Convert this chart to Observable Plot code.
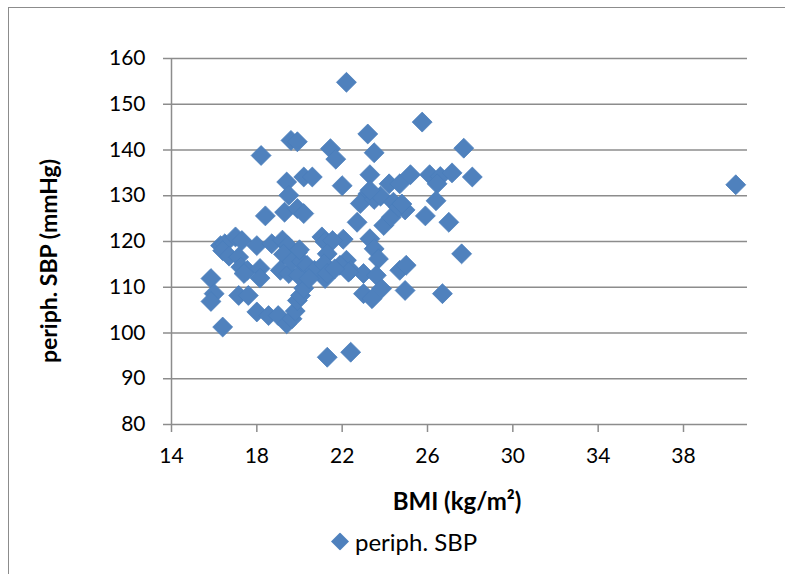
<!DOCTYPE html>
<html><head><meta charset="utf-8">
<script src="https://cdn.jsdelivr.net/npm/d3@7"></script>
<script src="https://cdn.jsdelivr.net/npm/@observablehq/plot@0.6"></script>
<style>
body{margin:0;background:#fff;font-family:Lato,"Open Sans",sans-serif;}
#wrap{position:relative;width:785px;height:574px;overflow:hidden;background:#fff;}
#frame{position:absolute;left:8px;top:7px;width:820px;height:620px;border-left:1.5px solid #8c8c8c;border-top:1.5px solid #8c8c8c;box-sizing:border-box;}
#chart{position:absolute;left:0;top:0;}
.title{position:absolute;font-weight:bold;font-size:23px;color:#000;white-space:nowrap;}
#ytitle{left:48px;top:261px;transform:translate(-50%,-50%) rotate(-90deg);}
#xtitle{left:457px;top:500px;transform:translate(-50%,-50%);font-size:24px;}
#legend{position:absolute;left:331px;top:541px;transform:translateY(-50%);display:flex;align-items:center;font-size:24px;color:#000;white-space:nowrap;}
#legend svg{margin-right:6px;}
</style>
</head><body>
<div id="wrap">
  <div id="frame"></div>
  <div id="chart"></div>
  <div class="title" id="ytitle">periph. SBP (mmHg)</div>
  <div class="title" id="xtitle">BMI (kg/m²)</div>
  <div id="legend"></div>
</div>
<script>
const seriesName = "periph. SBP";
const xTitle = "BMI (kg/m²)";
const yTitle = "periph. SBP (mmHg)";
const xTicks = [14, 18, 22, 26, 30, 34, 38];
const yTicks = [80, 90, 100, 110, 120, 130, 140, 150, 160];

const bmi = [
  22.2, 25.75, 23.2, 18.2, 19.6, 19.9, 21.45, 21.7, 22.0, 23.5,
  27.7, 19.4, 20.2, 20.6, 19.5, 18.4, 19.3, 19.9, 20.2, 23.3,
  24.2, 24.7, 25.2, 26.1, 26.6, 27.15, 28.1, 26.45, 26.4, 23.2,
  22.85, 22.7, 23.95, 24.3, 24.95, 25.9, 27.0, 23.5, 23.8, 24.4,
  24.65, 24.8, 23.3, 22.05, 23.3, 23.5, 23.7, 22.2, 22.4, 23.0,
  23.6, 24.7, 25.0, 27.6, 23.0, 23.4, 23.85, 24.95, 26.7, 22.4,
  21.3, 15.85, 16.0, 15.85, 16.4, 16.3, 16.5, 17.0, 17.3, 16.4,
  16.7, 17.15, 17.25, 17.55, 17.4, 17.15, 17.6, 18.0, 18.15, 18.15,
  18.0, 18.55, 19.0, 19.4, 19.65, 19.8, 19.9, 20.05, 20.2, 18.7,
  19.2, 19.45, 19.9, 19.25, 19.1, 19.5, 19.95, 19.65, 20.1, 20.35,
  20.7, 21.05, 21.2, 21.55, 21.3, 21.15, 21.2, 21.3, 21.9, 22.3,
  20.0, 20.45, 21.65, 40.45
];
const sbp = [
  154.8, 146.1, 143.5, 138.8, 142.1, 141.8, 140.3, 138.0, 132.2, 139.4,
  140.4, 133.0, 134.1, 134.1, 130.1, 125.6, 126.4, 127.2, 126.1, 134.6,
  132.6, 132.6, 134.6, 134.6, 134.2, 135.0, 134.1, 132.6, 128.9, 130.4,
  128.3, 124.2, 123.5, 125.3, 126.9, 125.6, 124.2, 129.2, 129.9, 128.6,
  127.5, 128.2, 131.2, 120.5, 120.6, 118.4, 116.2, 115.9, 113.7, 113.0,
  112.6, 113.7, 114.8, 117.3, 108.6, 107.5, 109.7, 109.3, 108.6, 95.8,
  94.7, 111.9, 108.6, 106.9, 101.3, 119.1, 119.5, 121.0, 120.2, 118.0,
  116.8, 116.6, 114.4, 113.7, 113.0, 108.2, 108.2, 119.1, 114.1, 112.0,
  104.6, 103.8, 103.8, 102.0, 103.1, 104.8, 107.1, 108.2, 109.8, 119.5,
  120.3, 119.1, 117.6, 117.2, 113.7, 113.0, 112.6, 115.6, 115.6, 114.8,
  113.7, 121.0, 119.9, 120.2, 117.3, 115.1, 111.9, 113.0, 114.8, 113.3,
  118.2, 111.9, 114.0, 132.4
];

const data = bmi.map((b, i) => ({bmi: b, sbp: sbp[i]}));
const blue = "#4f81bd";
const grey = "#8c8c8c";

const chart = Plot.plot({
  width: 785,
  height: 520,
  marginLeft: 171,
  marginRight: 38,
  marginTop: 58,
  marginBottom: 96,
  style: {fontFamily: "Lato, 'Open Sans', sans-serif", fontSize: "21px", color: "#000", background: "transparent", overflow: "visible"},
  x: {domain: [14, 41]},
  y: {domain: [80, 160]},
  marks: [
    Plot.gridY(yTicks, {stroke: grey, strokeOpacity: 1, strokeWidth: 1.5}),
    Plot.ruleX([14], {stroke: grey, strokeWidth: 1.5}),
    Plot.axisY(yTicks, {tickSize: 8, tickPadding: 18, stroke: grey, strokeWidth: 1.5, label: null}),
    Plot.axisX(xTicks, {tickSize: 8, tickPadding: 16, stroke: grey, strokeWidth: 1.5, label: null}),
    Plot.dot(data, {x: "bmi", y: "sbp", symbol: "diamond2", r: 9, fill: blue, stroke: "#4a7ebb", strokeWidth: 0.75})
  ]
});
document.getElementById("chart").appendChild(chart);
document.getElementById("xtitle").textContent = xTitle;
document.getElementById("ytitle").textContent = yTitle;

const legend = document.getElementById("legend");
const sw = d3.create("svg").attr("width", 18).attr("height", 18);
sw.append("path").attr("d", "M9,0L18,9L9,18L0,9Z").attr("fill", blue);
legend.appendChild(sw.node());
const lt = document.createElement("span");
lt.textContent = seriesName;
legend.appendChild(lt);
</script>
</body></html>
